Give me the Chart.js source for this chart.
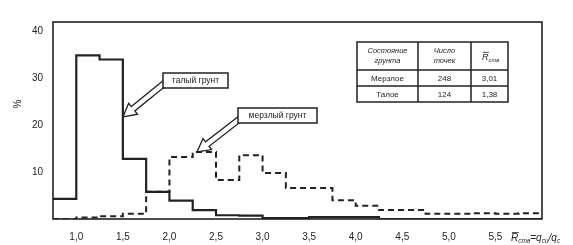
<!DOCTYPE html>
<html>
<head>
<meta charset="utf-8">
<script src="https://cdn.jsdelivr.net/npm/chart.js@4"></script>
<style>
  html, body { margin: 0; padding: 0; background: #fff; }
  #wrap { width: 573px; height: 245px; position: relative; }
</style>
</head>
<body>
<div id="wrap"><canvas id="chart"></canvas></div>
<script>
'use strict';

// ── DATA ────────────────────────────────────────────────────────────────────
// bin edges (R̄ств), 0.25 wide
const BIN_EDGES = [0.75, 1.0, 1.25, 1.5, 1.75, 2.0, 2.25, 2.5, 2.75, 3.0, 3.25,
  3.5, 3.75, 4.0, 4.25, 4.5, 4.75, 5.0, 5.25, 5.5, 5.75, 6.0];
// талый грунт, % per bin
const THAWED = [4.3, 34.9, 34.0, 12.8, 5.8, 3.9, 1.9, 0.8, 0.7, 0.2, 0.2,
  0.4, 0.4, 0.4, 0, 0, 0, 0, 0, 0, 0];
// мерзлый грунт, % per bin
const FROZEN = [0, 0.3, 0.6, 1.1, 5.8, 13.2, 14.3, 8.3, 13.6, 9.8, 6.6,
  6.6, 4.0, 2.8, 1.9, 1.9, 1.1, 1.1, 1.2, 1.1, 1.2];

const X_TICKS = [1.0, 1.5, 2.0, 2.5, 3.0, 3.5, 4.0, 4.5, 5.0, 5.5];
const Y_TICKS = [10, 20, 30, 40];

const TABLE_ROWS = [
  ['Мерзлое', '248', '3,01'],
  ['Талое', '124', '1,38']
];

const INK = '#222';
const FONT = '"Liberation Sans", Arial, sans-serif';

// point at each bin's left edge carries that bin; closing point at the right edge
function toSteps(vals) {
  const pts = vals.map((v, i) => ({ x: BIN_EDGES[i], y: v }));
  pts.push({ x: BIN_EDGES[vals.length], y: vals[vals.length - 1] });
  return pts;
}

// ── DRAW HELPERS ────────────────────────────────────────────────────────────
function hollowArrow(ctx, x0, y0, x1, y1) {
  const dx = x1 - x0, dy = y1 - y0;
  const len = Math.hypot(dx, dy);
  const ux = dx / len, uy = dy / len;
  const px = -uy, py = ux;
  const shaft = 2.8, head = 7, headLen = 13;
  const bx = x1 - ux * headLen, by = y1 - uy * headLen;
  ctx.save();
  ctx.beginPath();
  ctx.moveTo(x0 + px * shaft, y0 + py * shaft);
  ctx.lineTo(bx + px * shaft, by + py * shaft);
  ctx.lineTo(bx + px * head, by + py * head);
  ctx.lineTo(x1, y1);
  ctx.lineTo(bx - px * head, by - py * head);
  ctx.lineTo(bx - px * shaft, by - py * shaft);
  ctx.lineTo(x0 - px * shaft, y0 - py * shaft);
  ctx.closePath();
  ctx.fillStyle = '#fff';
  ctx.fill();
  ctx.strokeStyle = INK;
  ctx.lineWidth = 1.3;
  ctx.stroke();
  ctx.restore();
}

function labelBox(ctx, x, y, w, h, text) {
  ctx.save();
  ctx.fillStyle = '#fff';
  ctx.fillRect(x, y, w, h);
  ctx.strokeStyle = INK;
  ctx.lineWidth = 1.5;
  ctx.strokeRect(x, y, w, h);
  ctx.fillStyle = INK;
  ctx.font = '8.5px ' + FONT;
  ctx.textAlign = 'center';
  ctx.textBaseline = 'middle';
  ctx.fillText(text, x + w / 2, y + h / 2 + 0.5);
  ctx.restore();
}

// R̄ with subscript, returns end x
function rBar(ctx, x, y, size, sub) {
  ctx.font = 'italic ' + size + 'px ' + FONT;
  ctx.fillText('R', x, y);
  const w = ctx.measureText('R').width;
  ctx.beginPath();
  ctx.moveTo(x + 1, y - size * 0.85);
  ctx.lineTo(x + w + 0.5, y - size * 0.85);
  ctx.lineWidth = 0.8;
  ctx.strokeStyle = INK;
  ctx.stroke();
  ctx.font = 'italic ' + (size * 0.65) + 'px ' + FONT;
  ctx.fillText(sub, x + w, y + size * 0.2);
  return x + w + ctx.measureText(sub).width;
}

const decor = {
  id: 'decor',
  afterDraw(chart) {
    const { ctx, chartArea: a } = chart;
    ctx.save();
    // frame
    ctx.strokeStyle = INK;
    ctx.lineWidth = 1.6;
    ctx.strokeRect(a.left, a.top, a.right - a.left, a.bottom - a.top);

    // % label
    ctx.fillStyle = INK;
    ctx.save();
    ctx.translate(18, 104);
    ctx.rotate(-Math.PI / 2);
    ctx.font = '10px ' + FONT;
    ctx.textAlign = 'center';
    ctx.textBaseline = 'middle';
    ctx.fillText('%', 0, 0);
    ctx.restore();

    // x-axis title
    ctx.textBaseline = 'alphabetic';
    ctx.textAlign = 'left';
    let x = rBar(ctx, 511, 241, 10, 'ств');
    ctx.font = 'italic 10px ' + FONT;
    ctx.fillText('=q', x, 241);
    x += ctx.measureText('=q').width;
    ctx.font = 'italic 6.5px ' + FONT;
    ctx.fillText('cu', x, 243);
    x += ctx.measureText('cu').width;
    ctx.font = 'italic 10px ' + FONT;
    ctx.fillText('/q', x, 241);
    x += ctx.measureText('/q').width;
    ctx.font = 'italic 6.5px ' + FONT;
    ctx.fillText('c', x, 243);

    // table
    const tx = [357, 418, 471, 508], ty = [42, 70, 86, 102];
    ctx.fillStyle = '#fff';
    ctx.fillRect(tx[0], ty[0], tx[3] - tx[0], ty[3] - ty[0]);
    ctx.strokeStyle = INK;
    ctx.lineWidth = 1.5;
    ctx.strokeRect(tx[0], ty[0], tx[3] - tx[0], ty[3] - ty[0]);
    ctx.beginPath();
    [tx[1], tx[2]].forEach(v => { ctx.moveTo(v, ty[0]); ctx.lineTo(v, ty[3]); });
    [ty[1], ty[2]].forEach(v => { ctx.moveTo(tx[0], v); ctx.lineTo(tx[3], v); });
    ctx.stroke();
    ctx.fillStyle = INK;
    ctx.textAlign = 'center';
    ctx.textBaseline = 'middle';
    ctx.font = 'italic 7.5px ' + FONT;
    ctx.fillText('Состояние', (tx[0] + tx[1]) / 2, 51);
    ctx.fillText('грунта', (tx[0] + tx[1]) / 2, 61);
    ctx.fillText('Число', (tx[1] + tx[2]) / 2, 51);
    ctx.fillText('точек', (tx[1] + tx[2]) / 2, 61);
    ctx.textAlign = 'left';
    ctx.textBaseline = 'alphabetic';
    rBar(ctx, 482, 60, 9, 'ств');
    ctx.textAlign = 'center';
    ctx.textBaseline = 'middle';
    ctx.font = '8px ' + FONT;
    TABLE_ROWS.forEach((row, r) => {
      const cy = (ty[r + 1] + ty[r + 2]) / 2 + 0.5;
      row.forEach((cell, c) => ctx.fillText(cell, (tx[c] + tx[c + 1]) / 2, cy));
    });

    // callouts
    hollowArrow(ctx, 166, 82, 123, 117);
    labelBox(ctx, 163, 73, 65, 15, 'талый грунт');
    hollowArrow(ctx, 241, 118, 197, 152);
    labelBox(ctx, 238, 108, 79, 15, 'мерзлый грунт');
    ctx.restore();
  }
};

// ── CHART ───────────────────────────────────────────────────────────────────
new Chart(document.getElementById('chart'), {
  type: 'line',
  data: {
    datasets: [
      {
        label: 'талый грунт',
        data: toSteps(THAWED),
        stepped: 'before',
        borderColor: INK,
        borderWidth: 2.2,
        pointRadius: 0,
        fill: false
      },
      {
        label: 'мерзлый грунт',
        data: toSteps(FROZEN),
        stepped: 'before',
        borderColor: INK,
        borderWidth: 2,
        borderDash: [6, 4],
        pointRadius: 0,
        fill: false
      }
    ]
  },
  options: {
    responsive: true,
    maintainAspectRatio: false,
    animation: false,
    layout: { padding: { left: 0, top: 22, right: 31, bottom: 0 } },
    plugins: { legend: { display: false }, tooltip: { enabled: false } },
    scales: {
      x: {
        type: 'linear',
        min: 0.75,
        max: 6.0,
        grid: { display: false, drawTicks: false },
        border: { display: false },
        afterBuildTicks: s => { s.ticks = X_TICKS.map(v => ({ value: v })); },
        afterFit: s => { s.height = 26; },
        ticks: {
          autoSkip: false,
          maxRotation: 0,
          padding: 12,
          color: INK,
          font: { family: FONT, size: 10 },
          callback: v => v.toFixed(1).replace('.', ',')
        }
      },
      y: {
        min: 0,
        max: 42,
        grid: { display: false, drawTicks: false },
        border: { display: false },
        afterBuildTicks: s => { s.ticks = Y_TICKS.map(v => ({ value: v })); },
        afterFit: s => { s.width = 53; },
        ticks: {
          padding: 10,
          color: INK,
          font: { family: FONT, size: 10 }
        }
      }
    }
  },
  plugins: [decor]
});
</script>
</body>
</html>
